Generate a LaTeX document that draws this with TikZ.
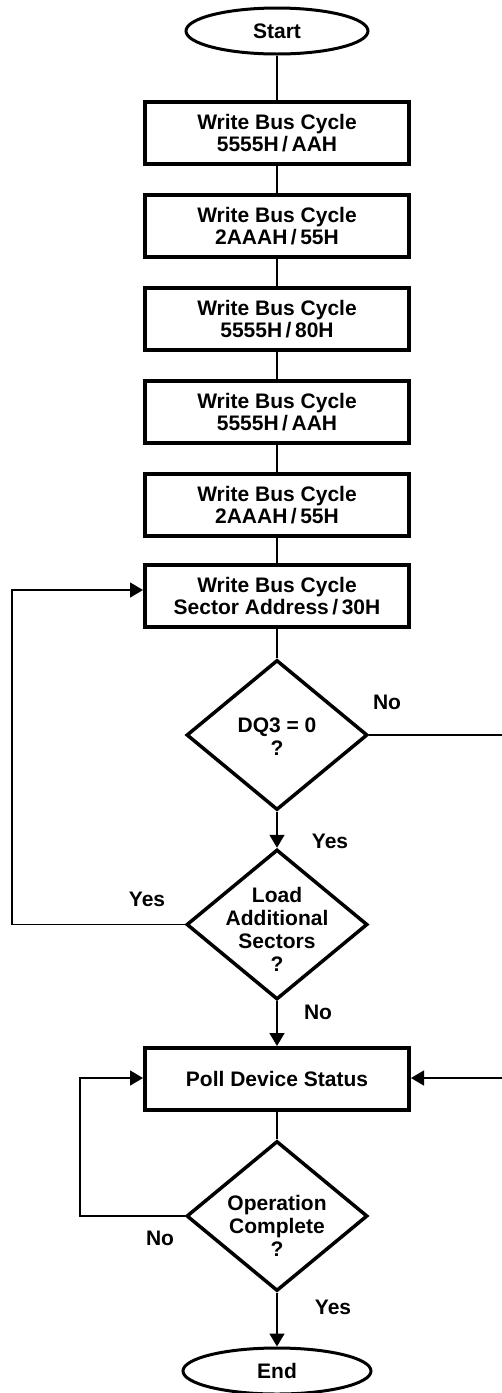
\documentclass[tikz,border=0pt]{standalone}
\usepackage{fontspec}
\setmainfont{Liberation Sans}
\usetikzlibrary{shapes.geometric,arrows.meta}
\begin{document}
\begin{tikzpicture}[x=1pt,y=-1pt,
  every node/.style={font=\bfseries\fontsize{21}{22.8}\selectfont, align=center},
  procbox/.style={draw, line width=4pt, minimum width=264pt, minimum height=62pt, inner sep=0pt},
  termnode/.style={draw, ellipse, line width=3pt, minimum width=182pt, minimum height=46pt, inner sep=0pt},
  decnode/.style={draw, diamond, line width=3.5pt, minimum width=181pt, minimum height=150pt, inner sep=0pt},
  conn/.style={line width=1.5pt},
  arr/.style={conn, -{Triangle[length=13pt,width=15pt]}},
  lbl/.style={inner sep=0pt}
]
\useasboundingbox (0,0) rectangle (502,1393);

\node[termnode] (start) at (277,31) {Start};
\node[procbox] (b1) at (277,133) {Write Bus Cycle\\5555H\,/\,AAH};
\node[procbox] (b2) at (277,226) {Write Bus Cycle\\2AAAH\,/\,55H};
\node[procbox] (b3) at (277,319) {Write Bus Cycle\\5555H\,/\,80H};
\node[procbox] (b4) at (277,412) {Write Bus Cycle\\5555H\,/\,AAH};
\node[procbox] (b5) at (277,505) {Write Bus Cycle\\2AAAH\,/\,55H};
\node[procbox] (b6) at (277,596) {Write Bus Cycle\\Sector Address\,/\,30H};
\node[decnode, label={[yshift=-2pt]center:{DQ3 = 0\\?}}] (d1) at (277,735) {};
\node[decnode, label={[yshift=-5pt]center:{Load\\Additional\\Sectors\\?}}] (d2) at (277,924.5) {};
\node[procbox] (poll) at (277,1079) {Poll Device Status};
\node[decnode, label={[yshift=-10pt]center:{Operation\\Complete\\?}}] (d3) at (277,1216) {};
\node[termnode, minimum width=188pt] (end) at (277,1371) {End};

\coordinate (r1) at (502,735);
\coordinate (r2) at (502,1078);
\coordinate (l1) at (12,924.5);
\coordinate (l2) at (80,1216);

\draw[conn] (start) -- (b1);
\draw[conn] (b1) -- (b2);
\draw[conn] (b2) -- (b3);
\draw[conn] (b3) -- (b4);
\draw[conn] (b4) -- (b5);
\draw[conn] (b5) -- (b6);
\draw[conn] (b6) -- (d1);
\draw[arr] (d1) -- (d2);
\draw[arr] (d2) -- (poll);
\draw[conn] (poll) -- (d3);
\draw[arr] (d3) -- (end);
\draw[conn] (d1.east) -- (r1);
\draw[arr] (r2) -- (poll.east |- r2);
\draw[arr] (d2.west) -- (l1) |- ([yshift=6pt]b6.west);
\draw[arr] (d3.west) -- (l2) |- ([yshift=1pt]poll.west);

\node[lbl] (n1) at (387,702) {No};
\node[lbl] (y1) at (330,841) {Yes};
\node[lbl] (y2) at (147,899) {Yes};
\node[lbl] (n2) at (318,1012) {No};
\node[lbl] (n3) at (160,1238) {No};
\node[lbl] (y3) at (333,1307) {Yes};
\end{tikzpicture}
\end{document}
